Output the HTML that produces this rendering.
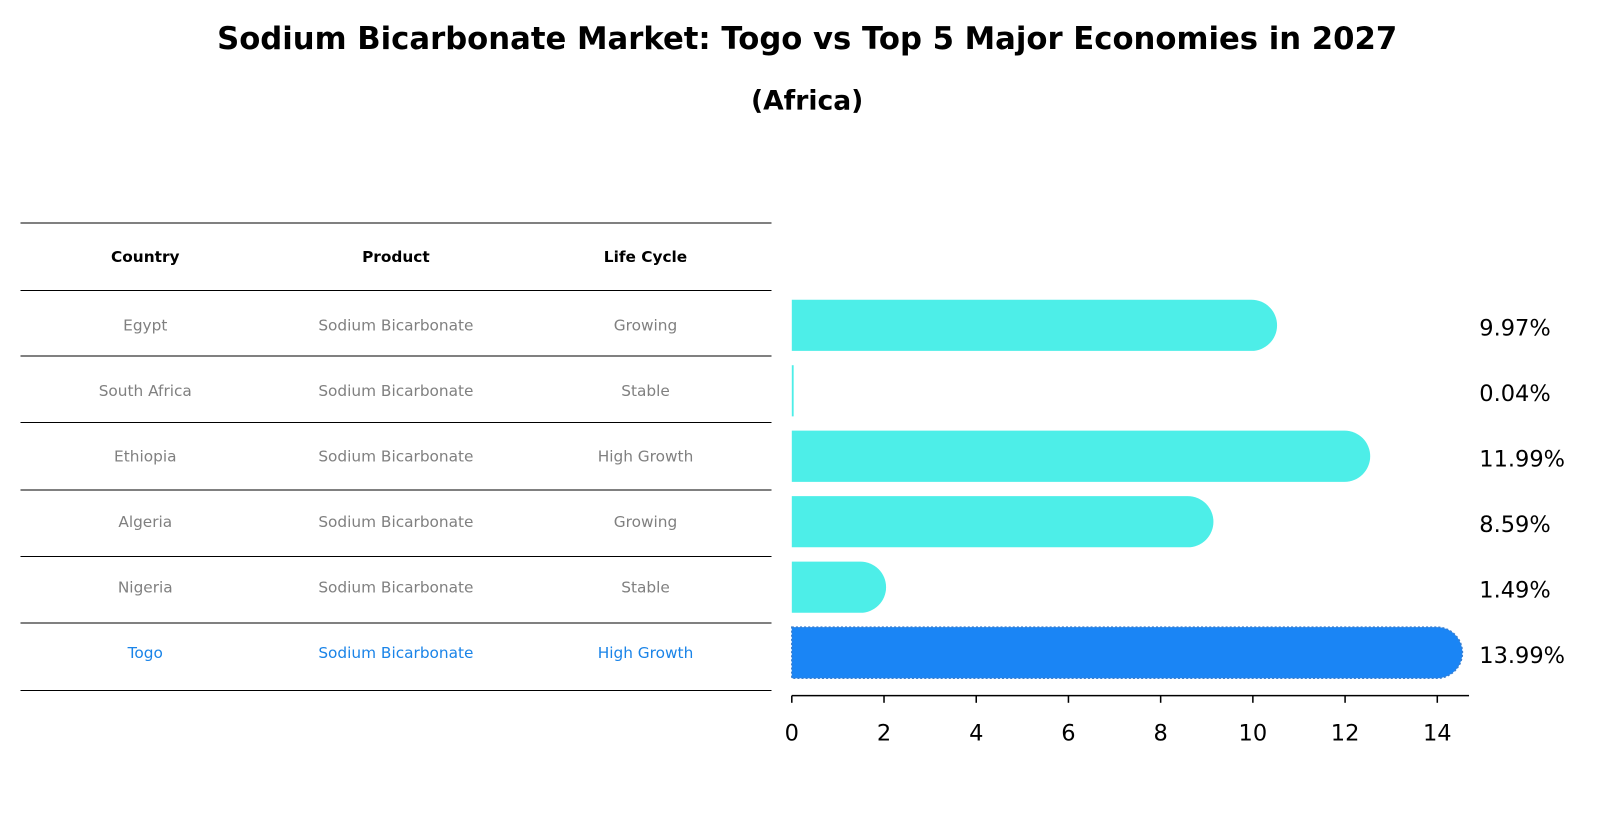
<!DOCTYPE html>
<html><head><meta charset="utf-8"><style>
body{margin:0;background:#fff;font-family:"Liberation Sans","DejaVu Sans",sans-serif;}
</style></head><body>
<svg width="1604" height="823" xmlns="http://www.w3.org/2000/svg" font-family="DejaVu Sans, Liberation Sans, sans-serif">
<g transform="scale(1.0230)">
<text x="789" y="48" text-anchor="middle" font-size="30" font-weight="bold">Sodium Bicarbonate Market: Togo vs Top 5 Major Economies in 2027</text>
<text x="789" y="107" text-anchor="middle" font-size="26" font-weight="bold">(Africa)</text>
<g id="table"></g>
<g id="bars"></g>
</g>
</svg>
<script>
const countries=["Egypt","South Africa","Ethiopia","Algeria","Nigeria","Togo"];
const products=["Sodium Bicarbonate","Sodium Bicarbonate","Sodium Bicarbonate","Sodium Bicarbonate","Sodium Bicarbonate","Sodium Bicarbonate"];
const lifecycle=["Growing","Stable","High Growth","Growing","Stable","High Growth"];
const values=[9.97,0.04,11.99,8.59,1.49,13.99];
const ticks=[0,2,4,6,8,10,12,14];
const NS="http://www.w3.org/2000/svg";
function mk(t,a,p){const e=document.createElementNS(NS,t);for(const k in a)e.setAttribute(k,a[k]);p.appendChild(e);return e;}
const tb=document.getElementById('table');
const lineYs=[218,284,348,413,479,544,609,675];
lineYs.forEach(y=>{const l=mk('line',{x1:20,x2:754,y1:y,y2:y,stroke:'#000','stroke-width':1,'shape-rendering':'crispEdges'},tb);

});
const colX=[142,387,631];
["Country","Product","Life Cycle"].forEach((h,i)=>{const t=mk('text',{x:colX[i],y:256,'text-anchor':'middle','font-size':15,'font-weight':'bold'},tb);t.textContent=h;

});
const x0=774,sx=45.07,bh=50;
function X(v){return x0+v*sx;}
function Y(i){return 318+i*64;}
const bg=document.getElementById('bars');
countries.forEach((c,i)=>{
 const togo=i===countries.length-1;
 const col=togo?'#1a84e8':'#808080';
 [c,products[i],lifecycle[i]].forEach((s,j)=>{const t=mk('text',{x:colX[j],y:Y(i)+5,'text-anchor':'middle','font-size':15,fill:col},tb);t.textContent=s;
 
 });
 const w=X(values[i])-x0, r=bh/2;
 const fill=togo?'#1a85f5':'#4deee8';
 let p;
 if(w<5){p=mk('rect',{x:x0,y:Y(i)-r,width:Math.max(w,1.5),height:bh,fill:fill},bg);}
 else{const e=X(values[i]);
 p=mk('path',{d:`M${x0},${Y(i)-r} H${e} A${r},${r} 0 0 1 ${e},${Y(i)+r} H${x0} Z`,fill:fill},bg);
 if(togo){p.setAttribute('stroke','#3a7fd0');p.setAttribute('stroke-dasharray','2 2');p.setAttribute('stroke-width','1.5');}}
 
 
 const t=mk('text',{x:1446,y:Y(i)+10,'font-size':22},bg);t.textContent=values[i].toFixed(2)+'%';
 
 
});
const ax=mk('line',{x1:x0,x2:1436,y1:680,y2:680,stroke:'#000','stroke-width':1.5},bg);


ticks.forEach(v=>{const l=mk('line',{x1:X(v),x2:X(v),y1:680,y2:687,stroke:'#000','stroke-width':1.5},bg);


const t=mk('text',{x:X(v),y:724,'text-anchor':'middle','font-size':22},bg);t.textContent=v;

});
</script>
</body></html>
